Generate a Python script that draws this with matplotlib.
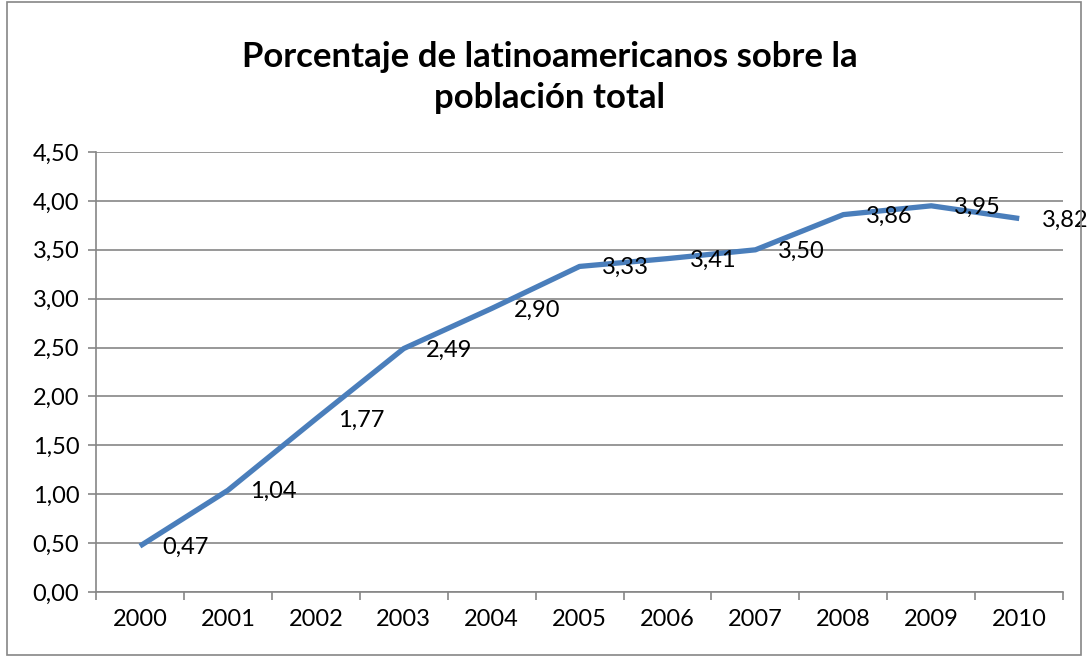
import matplotlib.pyplot as plt
from matplotlib.patches import Rectangle

years = ['2000', '2001', '2002', '2003', '2004', '2005', '2006', '2007', '2008', '2009', '2010']
pct = [0.47, 1.04, 1.77, 2.49, 2.90, 3.33, 3.41, 3.50, 3.86, 3.95, 3.82]
yticks = [0.0, 0.5, 1.0, 1.5, 2.0, 2.5, 3.0, 3.5, 4.0, 4.5]

plt.rcParams['font.family'] = ['Lato', 'DejaVu Sans']

fig = plt.figure(figsize=(10.88, 6.57), dpi=100)
ax = fig.add_axes([0.0882, 0.0989, 0.889, 0.6697])

x = list(range(len(years)))
ax.plot(x, pct, color='#4A7EBB', linewidth=3.8, solid_capstyle='butt', zorder=3)
for xi, v in zip(x, pct):
    ax.annotate(f'{v:.2f}'.replace('.', ','), (xi, v), xytext=(16, -1), textcoords='offset points',
                ha='left', va='center', fontsize=17, color='black')

ax.set_xlim(-0.5, len(years) - 0.5)
ax.set_ylim(0, 4.5)
ax.set_yticks(yticks)
ax.set_yticklabels([f'{t:.2f}'.replace('.', ',') for t in yticks], fontsize=17)
ax.set_xticks([i - 0.5 for i in range(len(years) + 1)])
ax.set_xticklabels([])
ax.set_xticks(x, minor=True)
ax.set_xticklabels(years, minor=True, fontsize=17)
ax.tick_params(axis='x', which='major', length=6, width=1.2, color='#868686', direction='out')
ax.tick_params(axis='x', which='minor', length=0, pad=12)
ax.tick_params(axis='y', length=6, width=1.2, color='#868686', pad=6)

ax.grid(axis='y', color='#868686', linewidth=1.2)
ax.set_axisbelow(True)
for s in ['top', 'right']:
    ax.spines[s].set_visible(False)
for s in ['left', 'bottom']:
    ax.spines[s].set_color('#868686')
    ax.spines[s].set_linewidth(1.2)

fig.text(0.505, 0.882, 'Porcentaje de latinoamericanos sobre la\npoblación total',
         ha='center', va='center', fontsize=25, fontweight='bold', linespacing=1.33)

fig.patches.append(Rectangle((0.0065, 0.003), 0.987, 0.994, transform=fig.transFigure,
                             fill=False, edgecolor='#868686', linewidth=1.2))

plt.savefig('out.png', dpi=100)
